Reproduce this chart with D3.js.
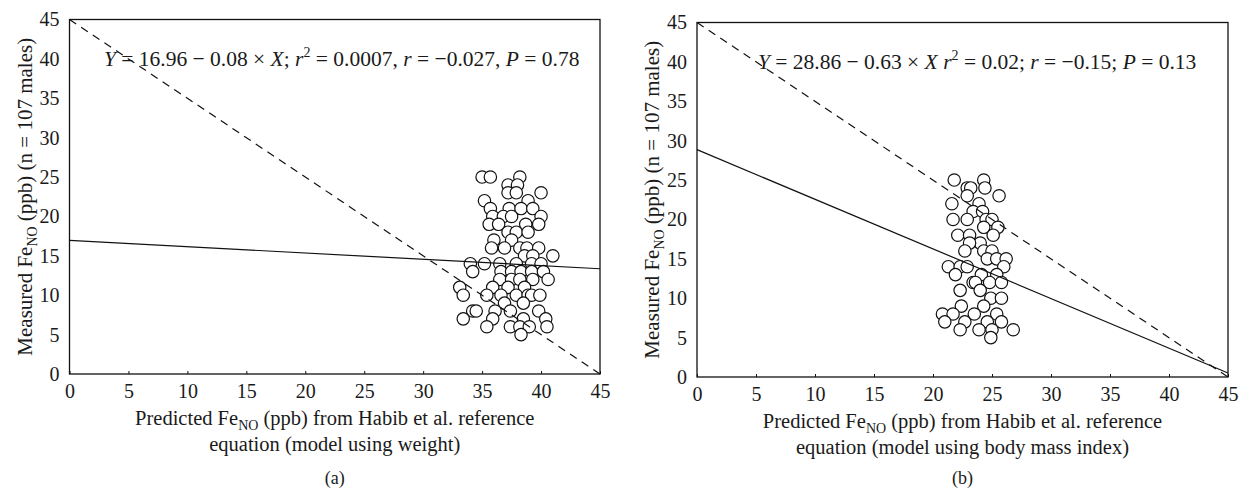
<!DOCTYPE html>
<html>
<head>
<meta charset="utf-8">
<script src="https://cdn.jsdelivr.net/npm/d3@7/dist/d3.min.js"></script>
<style>
  body { margin: 0; background: #fff; }
  svg text { font-family: "Liberation Serif", "Times New Roman", serif; fill: #1a1a1a; }
</style>
</head>
<body>
<svg id="chart" width="1244" height="498"></svg>
<script>
// ticks (both axes, both panels)
var ticks = [0, 5, 10, 15, 20, 25, 30, 35, 40, 45]

// (a) predicted from weight model vs measured FeNO
var weightX = [
  35.0, 35.7, 38.2,
  37.2, 38.0,
  37.2, 37.9, 40.0,
  35.2, 38.9,
  35.7, 37.3, 38.3, 39.3,
  35.9, 36.8, 37.5, 40.0,
  35.6, 36.4, 38.7, 39.8,
  37.2, 37.9, 38.9,
  36.0, 37.5,
  35.8, 36.9, 38.2, 38.8, 39.8,
  38.6, 39.3, 41.0,
  34.0, 35.2, 36.5, 37.9, 39.2, 40.0,
  34.2, 36.6, 37.5, 38.3, 39.2, 40.2,
  36.5, 37.5, 38.2, 39.3, 40.6,
  33.1, 35.9, 37.2, 38.6,
  33.4, 35.4, 36.6, 37.9, 38.9, 39.2, 39.9,
  36.9, 38.5,
  34.2, 34.5, 36.1, 37.4, 39.8,
  33.4, 35.9, 38.5, 40.4,
  35.4, 37.4, 38.2, 39.0, 40.5,
  38.3
]
var weightY = [
  25, 25, 25,
  24, 24,
  23, 23, 23,
  22, 22,
  21, 21, 21, 21,
  20, 20, 20, 20,
  19, 19, 19, 19,
  18, 18, 18,
  17, 17,
  16, 16, 16, 16, 16,
  15, 15, 15,
  14, 14, 14, 14, 14, 14,
  13, 13, 13, 13, 13, 13,
  12, 12, 12, 12, 12,
  11, 11, 11, 11,
  10, 10, 10, 10, 10, 10, 10,
  9, 9,
  8, 8, 8, 8, 8,
  7, 7, 7, 7,
  6, 6, 6, 6, 6,
  5
]

// (b) predicted from BMI model vs measured FeNO
var bmiX = [
  21.8, 24.3,
  22.9, 23.2, 24.4,
  22.9, 25.6,
  21.6, 23.9,
  23.4, 24.2,
  21.7, 22.9, 24.5, 25.0,
  25.5, 24.3,
  22.1, 23.1, 25.1,
  24.0, 23.1,
  22.7, 24.3, 25.0,
  24.6, 25.4, 26.2,
  21.3, 22.3, 22.9, 26.0,
  21.9, 24.1, 25.4,
  23.4, 23.6, 24.8, 25.8,
  22.3, 24.0,
  24.9, 25.8,
  22.4, 24.3,
  20.8, 21.7, 23.5, 25.4,
  21.0, 22.7, 24.6, 25.8,
  22.3, 23.9, 25.0, 26.8,
  24.9
]
var bmiY = [
  25, 25,
  24, 24, 24,
  23, 23,
  22, 22,
  21, 21,
  20, 20, 20, 20,
  19, 19,
  18, 18, 18,
  17, 17,
  16, 16, 16,
  15, 15, 15,
  14, 14, 14, 14,
  13, 13, 13,
  12, 12, 12, 12,
  11, 11,
  10, 10,
  9, 9,
  8, 8, 8, 8,
  7, 7, 7, 7,
  6, 6, 6, 6,
  5
]

// regression lines from the printed equations, and the dashed reference line
var fitIntercepts = [16.96, 28.86]
var fitSlopes = [-0.08, -0.63]
var refLine = [[0, 45], [45, 0]]

var equations = [
  [['Y', 'i'], [' = 16.96 \u2212 0.08 \u00d7 ', ''], ['X', 'i'], ['; ', ''], ['r', 'i'], ['2', 'sup'],
   [' = 0.0007, ', ''], ['r', 'i'], [' = \u22120.027, ', ''], ['P', 'i'], [' = 0.78', '']],
  [['Y', 'i'], [' = 28.86 \u2212 0.63 \u00d7 ', ''], ['X', 'i'], [' ', ''], ['r', 'i'], ['2', 'sup'],
   [' = 0.02; ', ''], ['r', 'i'], [' = \u22120.15; ', ''], ['P', 'i'], [' = 0.13', '']]
]
var xTitles = ['equation (model using weight)', 'equation (model using body mass index)']
var panelNames = ['(a)', '(b)']

var svg = d3.select('#chart')

var panels = [
  { left: 69.5, right: 600, top: 19.5, bottom: 374, xs: weightX, ys: weightY, eqX: 104 },
  { left: 697, right: 1228, top: 22.5, bottom: 377, xs: bmiX, ys: bmiY, eqX: 758 }
]

panels.forEach(function(p, i) {
  var x = d3.scaleLinear().domain([0, 45]).range([p.left, p.right])
  var y = d3.scaleLinear().domain([0, 45]).range([p.bottom, p.top])
  var g = svg.append('g')
  var cx = (p.left + p.right) / 2

  // x axis: tiny inward ticks, labels below
  var xAxis = d3.axisBottom(x).tickValues(ticks).tickSizeInner(-3).tickSizeOuter(0).tickPadding(10)
  g.append('g')
    .attr('transform', 'translate(0,' + p.bottom + ')')
    .call(xAxis)
    .call(function(a) {
      a.select('.domain').remove()
      a.selectAll('line').attr('stroke', '#111').attr('stroke-width', 1)
      a.selectAll('text').attr('font-size', '20px').attr('fill', '#1a1a1a')
    })

  var yAxis = d3.axisLeft(y).tickValues(ticks).tickSize(0).tickPadding(10)
  g.append('g')
    .attr('transform', 'translate(' + p.left + ',0)')
    .call(yAxis)
    .call(function(a) {
      a.select('.domain').remove()
      a.selectAll('text').attr('font-size', '20px').attr('fill', '#1a1a1a')
    })

  // points
  var pts = p.xs.map(function(v, k) { return [v, p.ys[k]] })
  g.append('g').selectAll('circle')
    .data(pts)
    .enter()
    .append('circle')
    .attr('cx', function(d) { return x(d[0]) })
    .attr('cy', function(d) { return y(d[1]) })
    .attr('r', 6.2)
    .attr('fill', '#fff')
    .attr('stroke', '#111')
    .attr('stroke-width', 1.2)

  var line = d3.line()
    .x(function(d) { return x(d[0]) })
    .y(function(d) { return y(d[1]) })

  // dashed reference
  g.append('path')
    .datum(refLine)
    .attr('d', line)
    .attr('fill', 'none')
    .attr('stroke', '#111')
    .attr('stroke-width', 1.2)
    .attr('stroke-dasharray', '8,6')

  // fitted regression
  var fit = [0, 45].map(function(v) { return [v, fitIntercepts[i] + fitSlopes[i] * v] })
  g.append('path')
    .datum(fit)
    .attr('d', line)
    .attr('fill', 'none')
    .attr('stroke', '#111')
    .attr('stroke-width', 1.2)

  // frame
  g.append('rect')
    .attr('x', p.left)
    .attr('y', p.top)
    .attr('width', p.right - p.left)
    .attr('height', p.bottom - p.top)
    .attr('fill', 'none')
    .attr('stroke', '#111')
    .attr('stroke-width', 1.3)

  // equation
  var eq = g.append('text')
    .attr('x', p.eqX)
    .attr('y', y(40) + 7)
    .attr('font-size', '21.5px')
  var lift = 0
  equations[i].forEach(function(s) {
    var t = eq.append('tspan').text(s[0])
    if (s[1] === 'i') t.attr('font-style', 'italic')
    if (s[1] === 'sup') {
      t.attr('font-size', '14px').attr('dy', -9)
      lift = 9
    } else if (lift) {
      t.attr('dy', lift)
      lift = 0
    }
  })

  // x title, two lines
  var t1 = g.append('text')
    .attr('x', cx)
    .attr('y', p.bottom + 51)
    .attr('text-anchor', 'middle')
    .attr('font-size', '20.5px')
  t1.append('tspan').text('Predicted Fe')
  t1.append('tspan').text('NO').attr('font-size', '14px').attr('dy', 5)
  t1.append('tspan').text(' (ppb) from Habib et al. reference').attr('dy', -5)

  g.append('text')
    .attr('x', cx)
    .attr('y', p.bottom + 77)
    .attr('text-anchor', 'middle')
    .attr('font-size', '20.5px')
    .text(xTitles[i])

  // y title
  var yt = g.append('text')
    .attr('transform', 'translate(' + (p.left - 38) + ',' + ((p.top + p.bottom) / 2) + ') rotate(-90)')
    .attr('text-anchor', 'middle')
    .attr('font-size', '21px')
  yt.append('tspan').text('Measured Fe')
  yt.append('tspan').text('NO').attr('font-size', '14px').attr('dy', 5)
  yt.append('tspan').text(' (ppb) (n = 107 males)').attr('dy', -5)

  g.append('text')
    .attr('x', cx)
    .attr('y', 484)
    .attr('text-anchor', 'middle')
    .attr('font-size', '18px')
    .text(panelNames[i])
})
</script>
</body>
</html>
